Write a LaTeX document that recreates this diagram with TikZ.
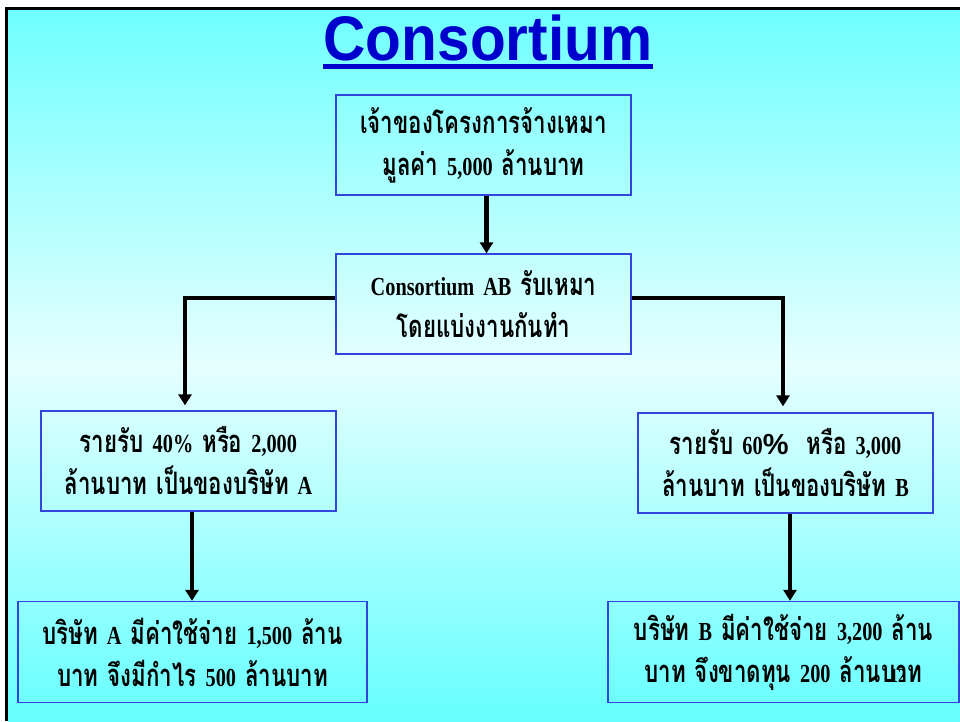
\documentclass[tikz,border=0pt]{standalone}
\usepackage{fontspec}
\setmainfont[FakeStretch=0.78]{Liberation Serif}
\newfontfamily\thaifont[Script=Thai,FakeStretch=0.72]{Loma}
\newfontfamily\titlefont[FakeStretch=0.93]{Liberation Sans}
\newfontfamily\pctfont{Liberation Sans}
\usetikzlibrary{arrows.meta}
\newcommand\thaitxt[1]{{\thaifont\fontsize{31}{42}\selectfont #1}}
\newcommand\bigpct{{\pctfont\fontsize{29}{29}\selectfont\%}}
\newcommand\widespaces{\spaceskip=9pt plus 2pt\relax}
\definecolor{slidecyan}{HTML}{6FFFFF}
\definecolor{slidepale}{HTML}{E6FFFF}
\definecolor{slidecyanlow}{HTML}{66FFFF}
\definecolor{boxblue}{HTML}{3344DD}
\definecolor{titleblue}{HTML}{0000CC}
\tikzset{
  infobox/.style={draw=boxblue, line width=1.3pt, rectangle, inner sep=0pt,
    align=center, font=\bfseries\fontsize{26}{42}\selectfont\widespaces},
  flow/.style={line width=4.5pt, -{Triangle[width=13pt,length=11pt]}, line join=miter}
}
\begin{document}
\begin{tikzpicture}[x=1pt,y=-1pt]
\useasboundingbox (0,0) rectangle (960,721);
% slide background and frame
\fill[white] (0,0) rectangle (960,721);
\shade[top color=slidecyan, bottom color=slidepale] (8,10) rectangle (960,365);
\shade[top color=slidepale, bottom color=slidecyanlow] (8,364.5) rectangle (960,721);
\draw[line width=3pt] (6.5,721) -- (6.5,8.5) -- (960,8.5);

% title
\node[anchor=base, text=titleblue, font=\titlefont\bfseries\fontsize{63}{63}\selectfont,
  inner sep=0pt] (title) at (488,60) {Consortium};
\fill[titleblue] (323,64) rectangle (653,69);

% boxes
\node[infobox, minimum width=295pt, minimum height=100pt] (owner) at (483.5,145)
  {\thaitxt{เจ้าของโครงการจ้างเหมา}\\\thaitxt{มูลค่า} 5,000 \thaitxt{ล้านบาท}};
\node[infobox, minimum width=295pt, minimum height=100pt] (cons) at (483.5,304)
  {Consortium AB \thaitxt{รับเหมา}\\\thaitxt{โดยแบ่งงานกันทำ}};
\node[infobox, minimum width=295pt, minimum height=100pt] (inca) at (188.5,461)
  {\thaitxt{รายรับ} 40\% \thaitxt{หรือ} 2,000\\\thaitxt{ล้านบาท เป็นของบริษัท} A};
\node[infobox, minimum width=295pt, minimum height=100pt] (incb) at (785.5,463)
  {\thaitxt{รายรับ} 60\bigpct\ \ \thaitxt{หรือ} 3,000\\\thaitxt{ล้านบาท เป็นของบริษัท} B};
\node[infobox, minimum width=349pt, minimum height=101pt] (resa) at (192.5,652)
  {\thaitxt{บริษัท} A \thaitxt{มีค่าใช้จ่าย} 1,500 \thaitxt{ล้าน}\\\thaitxt{บาท จึงมีกำไร} 500 \thaitxt{ล้านบาท}};
\node[infobox, minimum width=351pt, minimum height=101pt] (resb) at (783.5,652)
  {\thaitxt{บริษัท} B \thaitxt{มีค่าใช้จ่าย} 3,200 \thaitxt{ล้าน}\\\thaitxt{บาท จึงขาดทุน} 200 \thaitxt{ล้านบาท}};
\node[font=\bfseries\fontsize{20}{20}\selectfont, inner sep=0pt] (pageno) at (898,676) {12};

% connectors
\draw[flow] ([xshift=3pt]owner.south) -- ([xshift=3pt]cons.north);
\draw[flow, shorten >=5pt] ([yshift=6pt]cons.west) -| ([xshift=-3.5pt]inca.north);
\draw[flow, shorten >=6pt] ([yshift=6pt]cons.east) -| ([xshift=-2.5pt]incb.north);
\draw[flow] ([xshift=3.5pt]inca.south) -- ([xshift=3.5pt]inca.south |- resa.north);
\draw[flow] ([xshift=4.5pt]incb.south) -- ([xshift=4.5pt]incb.south |- resb.north);
\end{tikzpicture}
\end{document}
